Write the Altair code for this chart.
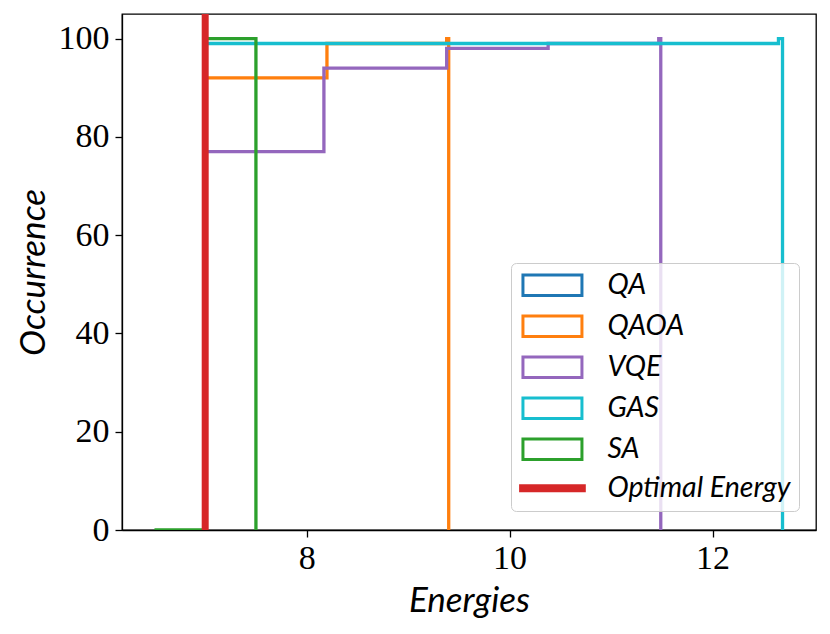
import altair as alt
import pandas as pd

# ---- data (cumulative step histograms) ----
series_names = ["QA", "QAOA", "VQE", "GAS", "SA"]
series_colors = ["#1f77b4", "#ff7f0e", "#9467bd", "#17becf", "#2ca02c"]

qa_edges = [7.0, 7.01]
qa_counts = [100]

qaoa_edges = [7.0, 8.2, 9.38, 9.4]
qaoa_counts = [92, 99, 100]

vqe_edges = [7.0, 8.17, 9.38, 10.38, 11.47, 11.49]
vqe_counts = [77, 94, 98, 99, 100]

gas_edges = [7.0, 12.65, 12.69]
gas_counts = [99, 100]

sa_edges = [6.5, 7.0, 7.5]
sa_counts = [0, 100]

optimal_energy = [7.0]
optimal_label = "Optimal Energy"
optimal_color = "#d62728"

x_ticks = [8, 10, 12]
y_ticks = [0, 20, 40, 60, 80, 100]

# ---- build step outlines (histtype='step') ----
all_edges = [qa_edges, qaoa_edges, vqe_edges, gas_edges, sa_edges]
all_counts = [qa_counts, qaoa_counts, vqe_counts, gas_counts, sa_counts]

rows = []
for name, edges, counts in zip(series_names, all_edges, all_counts):
    pts = [(edges[0], 0)]
    for i, c in enumerate(counts):
        pts.append((edges[i], c))
        pts.append((edges[i + 1], c))
    pts.append((edges[-1], 0))
    for k, (xv, yv) in enumerate(pts):
        rows.append({"series": name, "energy": xv, "count": yv, "k": k})
steps = pd.DataFrame(rows)

xscale = alt.Scale(domain=[6.18, 13.02], nice=False, zero=False)
yscale = alt.Scale(domain=[0, 105], nice=False, zero=False)

xaxis = alt.Axis(values=x_ticks, title="Energies", grid=False, tickSize=7,
                 labelPadding=4, titlePadding=8)
yaxis = alt.Axis(values=y_ticks, title="Occurrence", grid=False, tickSize=7,
                 labelPadding=6, titlePadding=7)

layers = []
for name, col in zip(series_names, series_colors):
    layers.append(
        alt.Chart(steps)
        .transform_filter(alt.datum.series == name)
        .mark_line(color=col, strokeWidth=3.3, clip=True, strokeJoin="miter", strokeCap="butt")
        .encode(
            x=alt.X("energy:Q", scale=xscale, axis=xaxis),
            y=alt.Y("count:Q", scale=yscale, axis=yaxis),
            order="k:Q",
        )
    )

rule = (
    alt.Chart(pd.DataFrame({"optimal": optimal_energy}))
    .mark_rule(color=optimal_color, strokeWidth=7, clip=True)
    .encode(x=alt.X("optimal:Q", scale=xscale, axis=xaxis))
)

# ---- legend (hidden points drive a merged color+shape legend) ----
legend_names = series_names + [optimal_label]
legend_colors = series_colors + [optimal_color]
box = "M-2.565,-0.883H2.565V0.883H-2.565Z"
bar = "M-2.9,-0.22H2.9M-2.9,0H2.9M-2.9,0.22H2.9"
legend_shapes = [box] * 5 + [bar]

leg = alt.Legend(title=None, orient="none", legendX=389, legendY=249)
legend_layer = (
    alt.Chart(pd.DataFrame({"series": legend_names}))
    .mark_point(opacity=0, filled=False, strokeWidth=3)
    .encode(
        color=alt.Color("series:N", scale=alt.Scale(domain=legend_names, range=legend_colors), legend=leg),
        shape=alt.Shape("series:N", scale=alt.Scale(domain=legend_names, range=legend_shapes), legend=leg),
    )
)

chart = (
    alt.layer(*layers, rule, legend_layer)
    .properties(
        width=694,
        height=516,
        autosize=alt.AutoSizeParams(type="none"),
        padding={"left": 114, "top": 6, "right": 6, "bottom": 92},
    )
    .configure_view(stroke="black", strokeWidth=1.3)
    .configure_axis(
        domainColor="black", domainWidth=1.3, tickColor="black", tickWidth=1.3,
        labelFont="Liberation Serif", labelFontSize=34, labelColor="black",
        titleFont="Lato", titleFontSize=35, titleFontStyle="italic",
        titleFontWeight="normal", titleColor="black", zindex=1,
    )
    .configure_legend(
        padding=8, strokeColor="#cccccc", strokeWidth=1, cornerRadius=5,
        fillColor="rgba(255,255,255,0.8)", rowPadding=8.0,
        symbolSize=529, symbolStrokeWidth=3, symbolOpacity=1,
        symbolFillColor="transparent", symbolOffset=19.2, labelOffset=40.7,
        labelFont="Lato", labelFontSize=28.5, labelFontStyle="italic",
        labelColor="black", labelLimit=400,
    )
)

chart.save("out.html", embed_options={"renderer": "svg", "actions": False})
